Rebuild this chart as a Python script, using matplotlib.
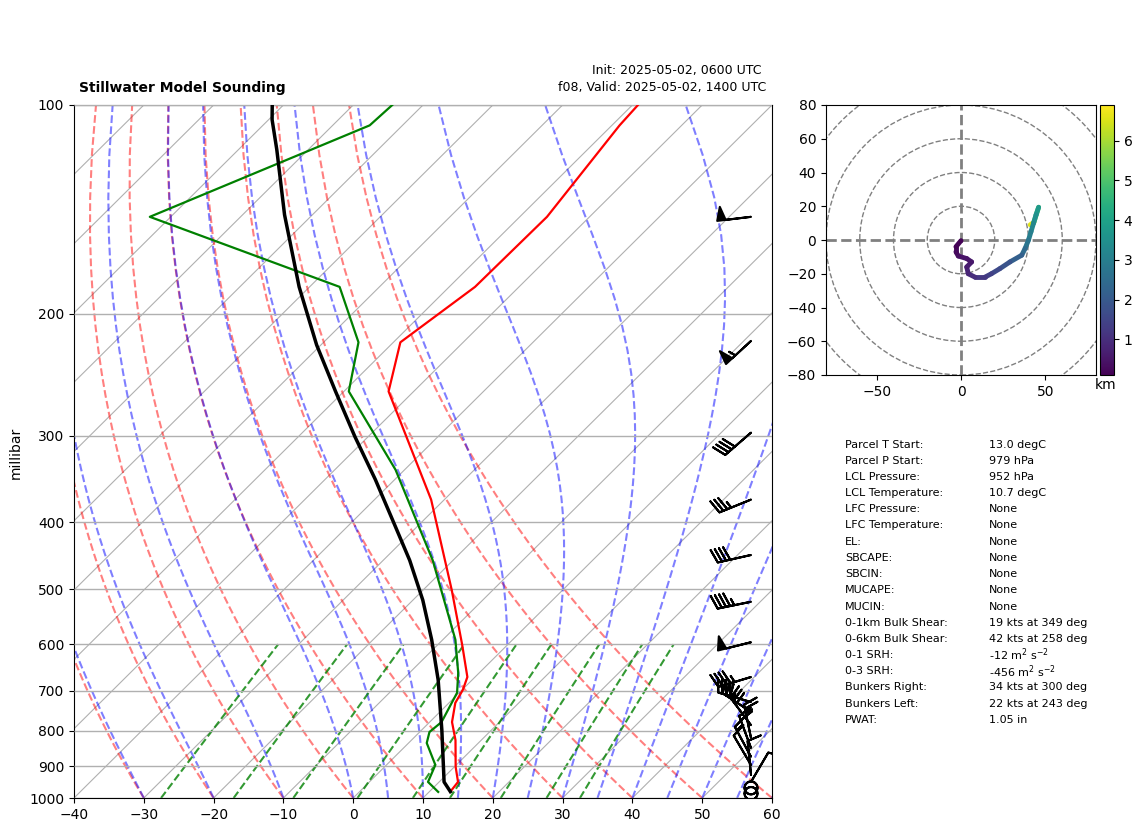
import numpy as np
import matplotlib
matplotlib.use("Agg")
import matplotlib.pyplot as plt
from matplotlib.collections import LineCollection
from matplotlib.patches import Circle
from matplotlib.cm import ScalarMappable
from matplotlib.colors import Normalize

W, H = 1142, 832
P_TICKS = [100, 200, 300, 400, 500, 600, 700, 800, 900, 1000]
T_TICKS = list(range(-40, 61, 10))

temp_p = [979, 948, 902, 825, 777, 729, 698, 669, 601, 501, 371, 259, 220, 183, 145, 107, 100]
temp_t = [13.0, 12.7, 10.2, 6.3, 3.2, 0.9, 0.1, -1.1, -6.5, -15.9, -31.9, -53.6, -59.0, -56.3, -56.1, -58.9, -59.2]
dew_p = [980, 948, 896, 833, 803, 777, 705, 660, 591, 454, 336, 259, 220, 183, 145, 107, 100]
dew_t = [11.3, 8.4, 7.0, 2.6, 1.4, 1.7, -0.3, -3.0, -8.2, -22.9, -41.3, -59.3, -65.0, -75.7, -113.0, -94.7, -94.4]
parcel_p = [979, 948, 911, 798, 675, 591, 518, 454, 404, 347, 301, 259, 222, 183, 144, 116, 105, 100]
parcel_t = [13.0, 10.7, 8.9, 2.9, -4.9, -11.6, -18.6, -26.2, -33.4, -42.8, -51.9, -61.2, -70.6, -81.5, -94.0, -104.5, -109.5, -111.6]

barb_p = [145, 219, 297, 371, 446, 521, 596, 669, 727, 751, 785, 819, 847, 872, 896, 926, 948, 967, 985]
barb_u = [50, 40, 30, 32, 40, 44, 48, 43, 38, 29, 18, 5, 7, 7, 5, 1, -5, 0, 0]
barb_v = [6, 37, 26, 13, 9, 9, 12, 13, -11, -19, -24, -24, -19, -13, -8.5, -10, -8.5, 0, 0]

hodo_u = [0, -3, -3, -1.6, 3.4, 6.3, 3.4, 4.3, 8.3, 14.2, 18, 23, 29, 36, 38, 40, 41.5, 43, 44.5, 46, 43.2, 41]
hodo_v = [-0.4, -4, -7, -9.5, -11, -13, -16, -20, -22, -22, -20, -17, -13, -9, -5, 0, 5, 10, 15, 19.4, 10.5, 9]
hodo_h = [0.1, 0.2, 0.3, 0.4, 0.5, 0.6, 0.7, 0.9, 1.1, 1.3, 1.5, 1.7, 2.0, 2.3, 2.6, 2.9, 3.1, 3.4, 3.6, 3.9, 6.3, 6.9]

table_labels = ["Parcel T Start:", "Parcel P Start:", "LCL Pressure:", "LCL Temperature:", "LFC Pressure:",
                "LFC Temperature:", "EL:", "SBCAPE:", "SBCIN:", "MUCAPE:", "MUCIN:", "0-1km Bulk Shear:",
                "0-6km Bulk Shear:", "0-1 SRH:", "0-3 SRH:", "Bunkers Right:", "Bunkers Left:", "PWAT:"]
table_values = ["13.0 degC", "979 hPa", "952 hPa", "10.7 degC", "None", "None", "None", "None", "None", "None",
                "None", "19 kts at 349 deg", "42 kts at 258 deg", r"-12 m$^{2}$ s$^{-2}$", r"-456 m$^{2}$ s$^{-2}$",
                "34 kts at 300 deg", "22 kts at 243 deg", "1.05 in"]

dry_t0 = np.arange(-40, 61, 10.0)
moist_t0 = np.concatenate((np.arange(-40, 0, 10.0), np.arange(0, 61, 5.0)))
mixing = [0.0004, 0.001, 0.002, 0.004, 0.007, 0.01, 0.016, 0.024, 0.032]
iso_t = np.arange(-150, 61, 10.0)

SKEW = 100.0


def skew(t, p):
    return np.asarray(t, float) + SKEW * np.log10(1000.0 / np.asarray(p, float))


def rect(x0, y0, x1, y1):
    return [x0 / W, 1 - y1 / H, (x1 - x0) / W, (y1 - y0) / H]


def es(tc):
    return 6.112 * np.exp(17.67 * tc / (tc + 243.5))


def moist_rate(p, tk):
    rd, cp, lv, eps = 287.047, 1004.666, 2.50084e6, 0.622
    e = es(tk - 273.15)
    rs = eps * e / (p - e)
    return (1 / p) * (rd * tk + lv * rs) / (cp + lv * lv * rs * eps / (rd * tk * tk))


def moist_line(t0, plev):
    out = [t0 + 273.15]
    for a, b in zip(plev[:-1], plev[1:]):
        h = b - a
        y = out[-1]
        k1 = moist_rate(a, y)
        k2 = moist_rate(a + h / 2, y + h * k1 / 2)
        k3 = moist_rate(a + h / 2, y + h * k2 / 2)
        k4 = moist_rate(b, y + h * k3)
        out.append(y + h * (k1 + 2 * k2 + 2 * k3 + k4) / 6)
    return np.array(out) - 273.15


fig = plt.figure(figsize=(W / 100, H / 100), dpi=100)
ax = fig.add_axes(rect(74, 105, 772, 798))
ax.set_yscale("log")
plev = np.linspace(1000, 100, 51)

for t in iso_t:
    ax.plot(skew([t, t], [1000, 100]), [1000, 100], color="#b0b0b0", lw=0.8, zorder=1)
for t in dry_t0:
    ax.plot(skew((t + 273.15) * (plev / 1000) ** 0.2857 - 273.15, plev), plev,
            color="r", alpha=0.5, ls="--", lw=1.5, zorder=2)
for t in moist_t0:
    ax.plot(skew(moist_line(t, plev), plev), plev, color="b", alpha=0.5, ls="--", lw=1.5, zorder=2)
pm = np.linspace(1000, 600, 40)
for w in mixing:
    e = pm * w / (0.622 + w)
    lg = np.log(e / 6.112)
    td = 243.5 * lg / (17.67 - lg)
    ax.plot(skew(td, pm), pm, color="g", alpha=0.8, ls="--", lw=1.5, zorder=2)

ax.plot(skew(temp_t, temp_p), temp_p, color="red", lw=1.6, zorder=4)
ax.plot(skew(dew_t, dew_p), dew_p, color="green", lw=1.6, zorder=4)
ax.plot(skew(parcel_t, parcel_p), parcel_p, color="black", lw=2.5, zorder=4)

ax.barbs(np.full(len(barb_p), (751 - 74) / 698), barb_p, barb_u, barb_v, transform=ax.get_yaxis_transform(),
         length=7, linewidth=1.5, color="k", zorder=5, sizes=dict(emptybarb=0.19))

ax.set_xlim(-40, 60)
ax.set_ylim(1000, 100)
ax.set_xticks(T_TICKS)
ax.yaxis.set_minor_locator(matplotlib.ticker.NullLocator())
ax.set_yticks(P_TICKS)
ax.set_yticklabels([str(p) for p in P_TICKS])
ax.yaxis.set_minor_formatter(matplotlib.ticker.NullFormatter())
ax.yaxis.grid(True, color="#b0b0b0", lw=1.0, zorder=1)
ax.set_axisbelow(False)
fig.text(16 / W, 1 - 453 / H, "millibar", rotation=90, fontsize=10, ha="center", va="center")

fig.text(79 / W, 1 - 88 / H, "Stillwater Model Sounding", fontsize=10, fontweight="bold", ha="left", va="center")
fig.text(762 / W, 1 - 70.5 / H, "Init: 2025-05-02, 0600 UTC", fontsize=9, ha="right", va="center")
fig.text(766 / W, 1 - 88 / H, "f08, Valid: 2025-05-02, 1400 UTC", fontsize=9, ha="right", va="center")

hx = fig.add_axes(rect(826, 105, 1096, 375))
for r in (20, 40, 60, 80, 100):
    hx.add_patch(Circle((0, 0), r, fill=False, ec="grey", ls="--", lw=1, zorder=1))
hx.axhline(0, color="grey", ls="--", lw=2, zorder=2)
hx.axvline(0, color="grey", ls="--", lw=2, zorder=2)
norm = Normalize(min(hodo_h), max(hodo_h))
pts = np.column_stack([hodo_u, hodo_v])
segs = np.stack([pts[:-1], pts[1:]], axis=1)[::-1]
mids = (np.array(hodo_h[:-1]) + np.array(hodo_h[1:]))[::-1] / 2
lc = LineCollection(segs, cmap="viridis", norm=norm, lw=3.5, zorder=3, capstyle="round")
lc.set_array(mids)
hx.add_collection(lc)
hx.set_xlim(-80, 80)
hx.set_ylim(-80, 80)
hx.set_xticks([-50, 0, 50])
hx.set_yticks(range(-80, 81, 20))

cax = fig.add_axes(rect(1100, 105, 1114, 375))
cb = fig.colorbar(ScalarMappable(norm=norm, cmap="viridis"), cax=cax)
cb.set_ticks([1, 2, 3, 4, 5, 6])
fig.text(1106 / W, 1 - 384.5 / H, "km", fontsize=10, ha="center", va="center")

for i, (a, b) in enumerate(zip(table_labels, table_values)):
    y = 444.5 + i * 16.2
    fig.text(845 / W, 1 - y / H, a, fontsize=8, ha="left", va="center")
    fig.text(989 / W, 1 - y / H, b, fontsize=8, ha="left", va="center")

fig.savefig("out.png", dpi=100)
